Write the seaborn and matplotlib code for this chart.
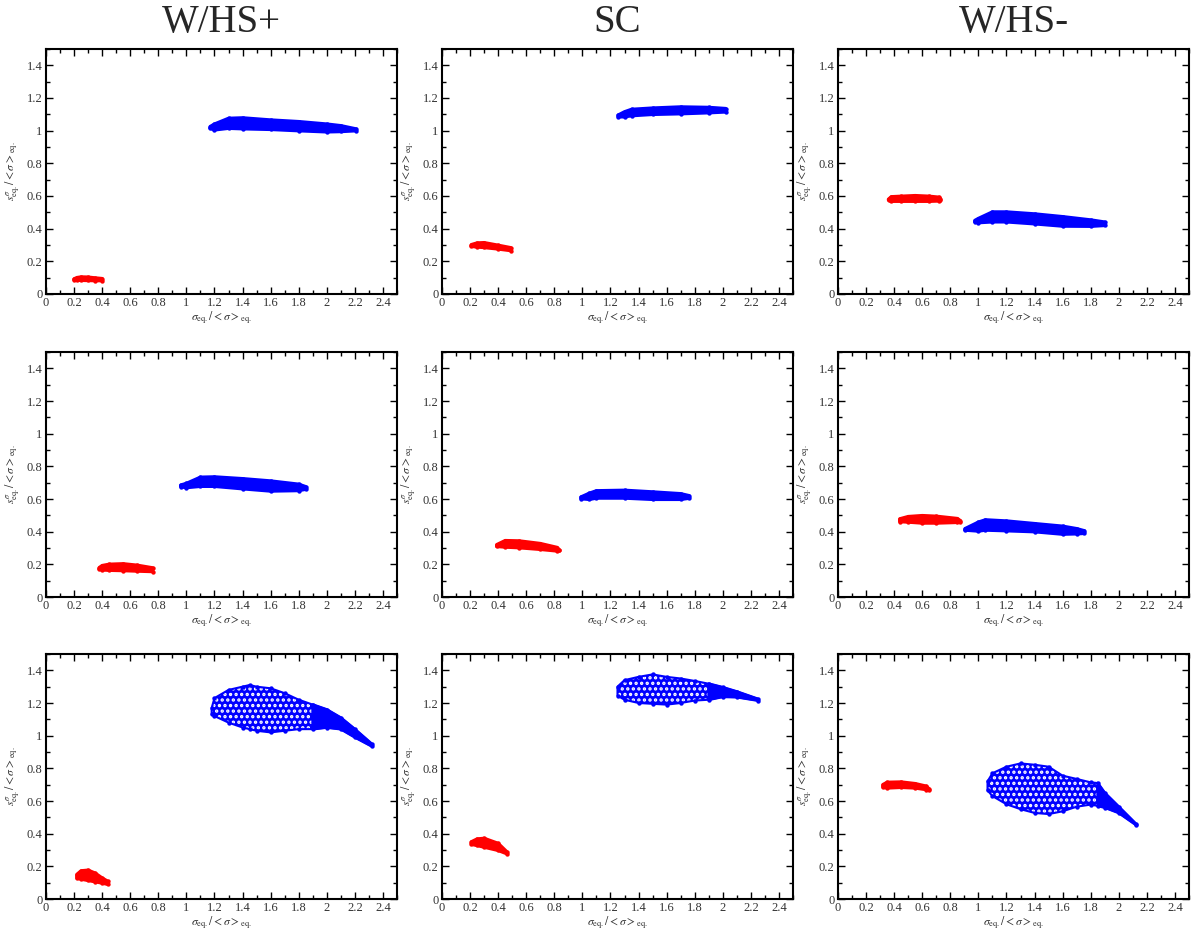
import numpy as np
import matplotlib
matplotlib.use("Agg")
import matplotlib.pyplot as plt
from matplotlib.ticker import MultipleLocator, FuncFormatter
import seaborn as sns

# column titles
col_titles = ["W/HS+", "SC", "W/HS-"]

# each cluster: x positions along the band, upper and lower edge of the point cloud
# row 1
r1c1_red_x = [0.20, 0.22, 0.25, 0.30, 0.35, 0.40]
r1c1_red_top = [0.092, 0.100, 0.104, 0.103, 0.098, 0.094]
r1c1_red_bot = [0.088, 0.084, 0.084, 0.083, 0.082, 0.082]
r1c1_blue_x = [1.17, 1.20, 1.30, 1.40, 1.60, 1.80, 2.00, 2.10, 2.21]
r1c1_blue_top = [1.025, 1.04, 1.075, 1.078, 1.065, 1.055, 1.04, 1.03, 1.01]
r1c1_blue_bot = [1.015, 1.005, 1.015, 1.012, 1.008, 1.0, 0.993, 0.995, 1.0]

r1c2_red_x = [0.21, 0.25, 0.30, 0.40, 0.49]
r1c2_red_top = [0.302, 0.312, 0.314, 0.298, 0.283]
r1c2_red_bot = [0.292, 0.288, 0.285, 0.276, 0.266]
r1c2_blue_x = [1.255, 1.30, 1.35, 1.50, 1.70, 1.90, 2.02]
r1c2_blue_top = [1.095, 1.115, 1.13, 1.138, 1.145, 1.142, 1.135]
r1c2_blue_bot = [1.085, 1.085, 1.092, 1.10, 1.104, 1.11, 1.115]

r1c3_red_x = [0.36, 0.38, 0.45, 0.55, 0.65, 0.72, 0.73]
r1c3_red_top = [0.58, 0.595, 0.598, 0.602, 0.598, 0.592, 0.582]
r1c3_red_bot = [0.575, 0.568, 0.568, 0.568, 0.568, 0.57, 0.575]
r1c3_blue_x = [0.975, 1.0, 1.1, 1.2, 1.4, 1.6, 1.8, 1.9]
r1c3_blue_top = [0.45, 0.462, 0.502, 0.502, 0.49, 0.473, 0.453, 0.44]
r1c3_blue_bot = [0.442, 0.437, 0.442, 0.442, 0.43, 0.416, 0.415, 0.42]

# row 2
r2c1_red_x = [0.38, 0.40, 0.45, 0.55, 0.65, 0.76]
r2c1_red_top = [0.18, 0.192, 0.20, 0.203, 0.194, 0.178]
r2c1_red_bot = [0.17, 0.166, 0.164, 0.162, 0.159, 0.156]
r2c1_blue_x = [0.96, 1.0, 1.1, 1.2, 1.4, 1.6, 1.8, 1.85]
r2c1_blue_top = [0.685, 0.695, 0.733, 0.735, 0.724, 0.71, 0.69, 0.675]
r2c1_blue_bot = [0.675, 0.67, 0.678, 0.678, 0.663, 0.649, 0.652, 0.66]

r2c2_red_x = [0.39, 0.45, 0.55, 0.70, 0.82, 0.83]
r2c2_red_top = [0.32, 0.345, 0.343, 0.327, 0.303, 0.29]
r2c2_red_bot = [0.31, 0.306, 0.302, 0.292, 0.282, 0.285]
r2c2_blue_x = [0.99, 1.05, 1.1, 1.3, 1.5, 1.7, 1.76]
r2c2_blue_top = [0.612, 0.635, 0.65, 0.653, 0.643, 0.632, 0.62]
r2c2_blue_bot = [0.602, 0.598, 0.606, 0.606, 0.598, 0.598, 0.605]

r2c3_red_x = [0.44, 0.50, 0.60, 0.70, 0.85, 0.87]
r2c3_red_top = [0.478, 0.492, 0.498, 0.494, 0.48, 0.468]
r2c3_red_bot = [0.462, 0.459, 0.453, 0.453, 0.457, 0.46]
r2c3_blue_x = [0.905, 1.0, 1.05, 1.2, 1.4, 1.6, 1.7, 1.755]
r2c3_blue_top = [0.418, 0.458, 0.472, 0.465, 0.449, 0.433, 0.418, 0.405]
r2c3_blue_bot = [0.41, 0.404, 0.41, 0.406, 0.40, 0.385, 0.387, 0.39]

# row 3 (blue clouds are sparse on the left, dense on the right)
r3c1_red_x = [0.22, 0.25, 0.30, 0.35, 0.40, 0.44]
r3c1_red_top = [0.15, 0.172, 0.176, 0.158, 0.128, 0.108]
r3c1_red_bot = [0.128, 0.122, 0.114, 0.106, 0.098, 0.09]
r3c1_blue_x = [1.18, 1.20, 1.30, 1.40, 1.45, 1.50, 1.60, 1.70, 1.80, 1.90, 2.00, 2.10, 2.20, 2.32]
r3c1_blue_top = [1.17, 1.23, 1.28, 1.30, 1.31, 1.30, 1.29, 1.26, 1.22, 1.19, 1.16, 1.11, 1.04, 0.95]
r3c1_blue_bot = [1.13, 1.12, 1.08, 1.05, 1.04, 1.03, 1.02, 1.03, 1.04, 1.04, 1.05, 1.04, 0.99, 0.935]
r3c1_dense_from = 1.9

r3c2_red_x = [0.21, 0.25, 0.30, 0.40, 0.46]
r3c2_red_top = [0.35, 0.367, 0.371, 0.34, 0.29]
r3c2_red_bot = [0.335, 0.328, 0.318, 0.298, 0.278]
r3c2_blue_x = [1.25, 1.30, 1.40, 1.50, 1.60, 1.70, 1.80, 1.90, 2.00, 2.10, 2.25]
r3c2_blue_top = [1.30, 1.34, 1.36, 1.375, 1.36, 1.35, 1.335, 1.318, 1.296, 1.27, 1.225]
r3c2_blue_bot = [1.245, 1.22, 1.20, 1.195, 1.19, 1.20, 1.215, 1.22, 1.238, 1.236, 1.215]
r3c2_dense_from = 1.9

r3c3_red_x = [0.32, 0.35, 0.45, 0.55, 0.63, 0.65]
r3c3_red_top = [0.70, 0.714, 0.716, 0.706, 0.69, 0.672]
r3c3_red_bot = [0.685, 0.68, 0.684, 0.68, 0.67, 0.665]
r3c3_blue_x = [1.065, 1.10, 1.20, 1.30, 1.40, 1.50, 1.60, 1.70, 1.80, 1.85, 1.90, 2.00, 2.12]
r3c3_blue_top = [0.72, 0.77, 0.81, 0.83, 0.822, 0.81, 0.755, 0.735, 0.714, 0.71, 0.65, 0.565, 0.462]
r3c3_blue_bot = [0.665, 0.63, 0.58, 0.55, 0.527, 0.52, 0.537, 0.565, 0.578, 0.57, 0.56, 0.527, 0.455]
r3c3_dense_from = 1.85

panels = [
    [(r1c1_red_x, r1c1_red_top, r1c1_red_bot, None), (r1c1_blue_x, r1c1_blue_top, r1c1_blue_bot, None)],
    [(r1c2_red_x, r1c2_red_top, r1c2_red_bot, None), (r1c2_blue_x, r1c2_blue_top, r1c2_blue_bot, None)],
    [(r1c3_red_x, r1c3_red_top, r1c3_red_bot, None), (r1c3_blue_x, r1c3_blue_top, r1c3_blue_bot, None)],
    [(r2c1_red_x, r2c1_red_top, r2c1_red_bot, None), (r2c1_blue_x, r2c1_blue_top, r2c1_blue_bot, None)],
    [(r2c2_red_x, r2c2_red_top, r2c2_red_bot, None), (r2c2_blue_x, r2c2_blue_top, r2c2_blue_bot, None)],
    [(r2c3_red_x, r2c3_red_top, r2c3_red_bot, None), (r2c3_blue_x, r2c3_blue_top, r2c3_blue_bot, None)],
    [(r3c1_red_x, r3c1_red_top, r3c1_red_bot, None), (r3c1_blue_x, r3c1_blue_top, r3c1_blue_bot, r3c1_dense_from)],
    [(r3c2_red_x, r3c2_red_top, r3c2_red_bot, None), (r3c2_blue_x, r3c2_blue_top, r3c2_blue_bot, r3c2_dense_from)],
    [(r3c3_red_x, r3c3_red_top, r3c3_red_bot, None), (r3c3_blue_x, r3c3_blue_top, r3c3_blue_bot, r3c3_dense_from)],
]
cluster_colors = ["#ff0000", "#0000ff"]

sns.set_theme(style="ticks")
plt.rcParams["font.family"] = ["Liberation Serif", "DejaVu Serif"]
plt.rcParams["mathtext.fontset"] = "stix"
plt.rcParams["hatch.linewidth"] = 1.6

xlab = r"$\sigma_{\rm eq.}/{<}\sigma{>}_{\rm eq.}$"
ylab = r"$s^{\sigma}_{\rm eq.}/{<}\sigma{>}_{\rm eq.}$"


def draw_cluster(ax, x, top, bot, color, dense_from):
    px = list(x) + list(x)[::-1]
    py = list(top) + list(bot)[::-1]
    if dense_from is None:
        ax.fill(px, py, facecolor=color, edgecolor=color, lw=2.5, joinstyle="round")
    else:
        # sparse part of the cloud: blue with small white gaps
        ax.fill(px, py, facecolor=color, edgecolor="white", lw=0, hatch="...")
        ax.fill(px, py, facecolor="none", edgecolor=color, lw=1.5, joinstyle="round")
        xs = [v for v in x if v >= dense_from]
        tp = [t for v, t in zip(x, top) if v >= dense_from]
        bt = [b for v, b in zip(x, bot) if v >= dense_from]
        ax.fill(xs + xs[::-1], tp + bt[::-1], facecolor=color, edgecolor=color,
                lw=2.0, joinstyle="round")
    sns.scatterplot(x=px, y=py, ax=ax, color=color, s=10, edgecolor=None, linewidth=0)


fig = plt.figure(figsize=(11.97, 9.31), dpi=100)
W, H = 1197.0, 931.0
lefts = [46, 442, 838]
tops = [49, 352, 654]
aw, ah = 351, 245

fmt = FuncFormatter(lambda v, p: "%g" % round(v, 2))

for i, clusters in enumerate(panels):
    r, c = divmod(i, 3)
    ax = fig.add_axes([lefts[c] / W, 1 - (tops[r] + ah) / H, aw / W, ah / H])
    for (x, top, bot, dense), col in zip(clusters, cluster_colors):
        draw_cluster(ax, x, top, bot, col, dense)
    ax.set_xlim(0, 2.5)
    ax.set_ylim(0, 1.5)
    ax.set_xticks(np.arange(0, 2.41, 0.2))
    ax.set_yticks(np.arange(0, 1.41, 0.2))
    ax.xaxis.set_minor_locator(MultipleLocator(0.1))
    ax.yaxis.set_minor_locator(MultipleLocator(0.1))
    ax.xaxis.set_major_formatter(fmt)
    ax.yaxis.set_major_formatter(fmt)
    ax.tick_params(which="both", direction="in", top=True, right=True,
                   labelsize=9, colors="black", labelcolor="#333333", width=1.0)
    ax.tick_params(which="major", length=5, pad=2.5)
    ax.tick_params(which="minor", length=3)
    for s in ax.spines.values():
        s.set_linewidth(1.5)
        s.set_color("black")
    ax.set_xlabel(xlab, fontsize=8.5, labelpad=0, color="#333333")
    ax.set_ylabel(ylab, fontsize=8.5, labelpad=4, color="#333333")
    if r == 0:
        ax.set_title(col_titles[c], fontsize=28, pad=12)

fig.savefig("out.png", dpi=100)
